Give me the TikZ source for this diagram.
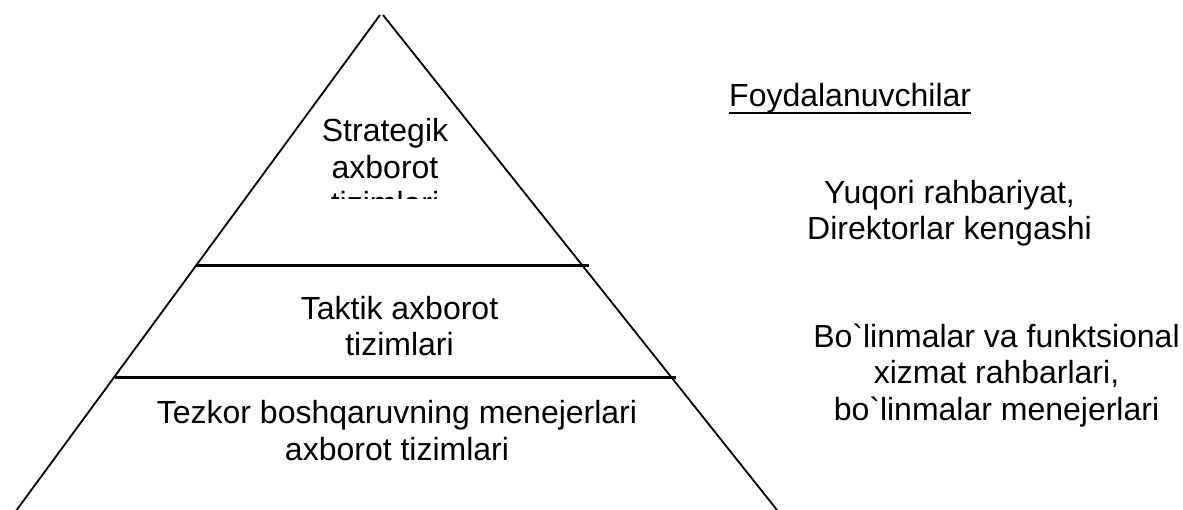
\documentclass[tikz,border=0pt]{standalone}
\usepackage{fontspec}
\setmainfont{Liberation Sans}[Ligatures=TeXOff]
\begin{document}
\begin{tikzpicture}[x=1pt,y=-1pt,
  side/.style={line width=1.8pt},
  level/.style={line width=2.7pt},
  label/.style={inner sep=0pt,align=center,anchor=base,
    font=\fontsize{32}{36.4}\selectfont}]
\useasboundingbox (0,0) rectangle (1183,510);

% pyramid outline
\coordinate (apexL) at (380,15);
\coordinate (apexR) at (383,15);
\coordinate (baseL) at (13,515);
\coordinate (baseR) at (781,515);
\draw[side] (apexL) -- (baseL);
\draw[side] (apexR) -- (baseR);

% level dividers
\coordinate (l1a) at (196,265.7);
\coordinate (l1b) at (589,265.7);
\coordinate (l2a) at (115,377.3);
\coordinate (l2b) at (676,377.3);
\draw[level] (l1a) -- (l1b);
\draw[level] (l2a) -- (l2b);

% top level: text box cut off at its lower edge
% (a multi-line node sits on the baseline of its last line)
\begin{scope}
  \clip (290,95) rectangle (480,198.5);
  \node[label] (strat) at (385,214.5) {Strategik\\axborot\\tizimlari};
\end{scope}

\node[label] (takt) at (399.5,355.7) {Taktik axborot\\tizimlari};
\node[label] (tezk) at (397,460) {Tezkor boshqaruvning menejerlari\\axborot tizimlari};

% users column
\node[label,anchor=base west] (users) at (729,107) {Foydalanuvchilar};
\draw[line width=2.5pt] ([yshift=-6pt]users.base west) -- ([yshift=-6pt]users.base east);

\node[label] (top) at (949.5,240) {Yuqori rahbariyat,\\Direktorlar kengashi};
\node[label] (mid) at (996.5,420) {Bo\symbol{96}linmalar va funktsional\\xizmat rahbarlari,\\bo\symbol{96}linmalar menejerlari};
\end{tikzpicture}
\end{document}
